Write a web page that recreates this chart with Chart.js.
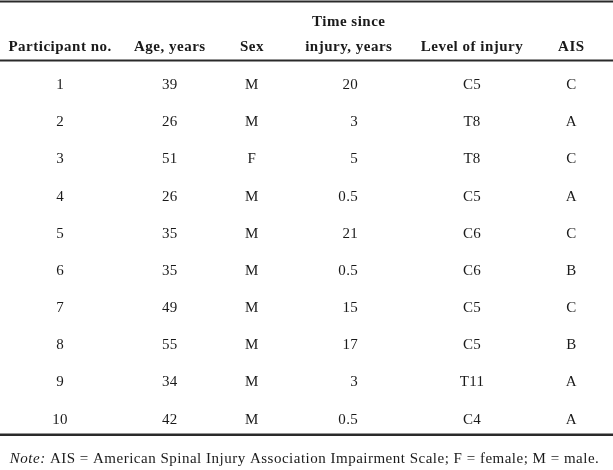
<!DOCTYPE html>
<html>
<head>
<meta charset="utf-8">
<script src="https://cdn.jsdelivr.net/npm/chart.js@4"></script>
<style>
  html, body { margin: 0; padding: 0; background: #fff; }
  #wrap { width: 613px; height: 470px; position: relative; }
</style>
</head>
<body>
<div id="wrap"><canvas id="tableChart"></canvas></div>
<script>
// Table data
const headers = [['Participant no.'], ['Age, years'], ['Sex'], ['Time since', 'injury, years'], ['Level of injury'], ['AIS']];
const participants = [1, 2, 3, 4, 5, 6, 7, 8, 9, 10];
const ages = [39, 26, 51, 26, 35, 35, 49, 55, 34, 42];
const sexes = ['M', 'M', 'F', 'M', 'M', 'M', 'M', 'M', 'M', 'M'];
const yearsSinceInjury = [20, 3, 5, 0.5, 21, 0.5, 15, 17, 3, 0.5];
const injuryLevels = ['C5', 'T8', 'T8', 'C5', 'C6', 'C6', 'C5', 'C5', 'T11', 'C4'];
const aisGrades = ['C', 'A', 'C', 'A', 'C', 'B', 'C', 'B', 'A', 'A'];
const note = 'AIS = American Spinal Injury Association Impairment Scale; F = female; M = male.';

// Layout (fractions of table width, row units)
const columns = [participants, ages, sexes, yearsSinceInjury, injuryLevels, aisGrades];
const headerPos = [0.098, 0.277, 0.411, 0.569, 0.770, 0.932];
const cellPos = [0.098, 0.277, 0.411, 0.584, 0.770, 0.932];
const cellAlign = ['center', 'center', 'center', 'right', 'center', 'center'];

const textColor = '#1a1a1a';
const ruleColor = '#2a2a2a';
const serif = '"Liberation Serif", "DejaVu Serif", serif';

const datasets = columns.map(function (col, c) {
    return {
        label: headers[c].join(' '),
        data: col.map(function (v, i) { return { x: cellPos[c], y: i + 1, text: String(v) }; }),
        align: cellAlign[c],
        pointRadius: 0,
        pointHoverRadius: 0
    };
});

const tablePlugin = {
    id: 'tableText',
    afterDatasetsDraw: function (chart) {
        const ctx = chart.ctx;
        const xs = chart.scales.x, ys = chart.scales.y;
        ctx.save();

        // rules
        ctx.strokeStyle = ruleColor;
        [[-1.218, 2], [0.368, 2], [10.435, 2.5]].forEach(function (r) {
            const y = ys.getPixelForValue(r[0]);
            ctx.lineWidth = r[1];
            ctx.beginPath();
            ctx.moveTo(xs.left, y);
            ctx.lineTo(xs.right, y);
            ctx.stroke();
        });

        // header
        ctx.fillStyle = textColor;
        ctx.font = 'bold 15px ' + serif;
        ctx.letterSpacing = '0.5px';
        ctx.textAlign = 'center';
        ctx.textBaseline = 'alphabetic';
        headers.forEach(function (lines, c) {
            const x = xs.getPixelForValue(headerPos[c]);
            lines.forEach(function (line, k) {
                const y = ys.getPixelForValue(0.113 - (lines.length - 1 - k) * 0.672);
                ctx.fillText(line, x, y);
            });
        });

        // body cells
        ctx.font = '15px ' + serif;
        ctx.letterSpacing = '0.3px';
        ctx.textBaseline = 'middle';
        chart.data.datasets.forEach(function (ds, d) {
            ctx.textAlign = ds.align;
            chart.getDatasetMeta(d).data.forEach(function (el, j) {
                ctx.fillText(ds.data[j].text, el.x, el.y + 1);
            });
        });

        // note
        const ny = ys.getPixelForValue(11.19);
        const nx = xs.getPixelForValue(0.016);
        ctx.letterSpacing = '0.5px';
        ctx.textAlign = 'left';
        ctx.textBaseline = 'alphabetic';
        ctx.font = 'italic 15px ' + serif;
        ctx.fillText('Note:', nx, ny);
        const w = ctx.measureText('Note: ').width;
        ctx.font = '15px ' + serif;
        ctx.fillText(note, nx + w, ny);
        ctx.restore();
    }
};

new Chart(document.getElementById('tableChart'), {
    type: 'scatter',
    data: { datasets: datasets },
    options: {
        responsive: true,
        maintainAspectRatio: false,
        animation: false,
        layout: { padding: 0 },
        plugins: {
            legend: { display: false },
            tooltip: { enabled: false }
        },
        scales: {
            x: { type: 'linear', display: false, min: 0, max: 1 },
            y: { type: 'linear', display: false, min: -1.26, max: 11.38, reverse: true }
        }
    },
    plugins: [tablePlugin]
});
</script>
</body>
</html>
